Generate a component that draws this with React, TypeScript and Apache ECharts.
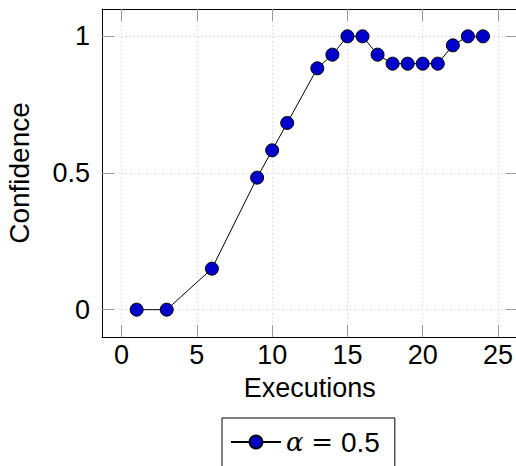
import React, { useEffect, useRef } from "react";
import * as echarts from "echarts";

const executions = [1, 3, 6, 9, 10, 11, 13, 14, 15, 16, 17, 18, 19, 20, 21, 22, 23, 24];
const confidence = [0, 0, 0.15, 0.483, 0.583, 0.683, 0.883, 0.933, 1, 1, 0.933, 0.9, 0.9, 0.9, 0.9, 0.967, 1, 1];
const xTicks = [0, 5, 10, 15, 20, 25];
const yTicks = [0, 0.5, 1];
const seriesName = "α = 0.5";

const FONT = "Liberation Sans";

export default function App() {
  const ref = useRef<HTMLDivElement>(null);
  useEffect(() => {
    if (!ref.current) return;
    const chart = echarts.init(ref.current, null, { renderer: "svg" });
    const tickStyle = { show: true, inside: true, length: 12, lineStyle: { color: "#9a9a9a", width: 1 } };
    const axisLine = { show: true, onZero: false, lineStyle: { color: "#000", width: 1 } };
    const grid = { show: true, lineStyle: { color: "#c8c8c8", width: 1, type: [1, 3] } };
    chart.setOption({
      animation: false,
      grid: { left: 102, top: 9, width: 415.6, height: 328, containLabel: false, outerBoundsMode: "none" },
      xAxis: [
        {
          type: "value",
          min: -1.3,
          max: 26.3,
          position: "bottom",
          axisLine,
          axisTick: { ...tickStyle, customValues: xTicks },
          axisLabel: { customValues: xTicks, color: "#000", fontFamily: FONT, fontSize: 27, margin: 4 },
          splitLine: grid,
          name: "Executions",
          nameLocation: "middle",
          nameGap: 37,
          nameTextStyle: { color: "#000", fontFamily: FONT, fontSize: 27 },
        },
        {
          type: "value",
          min: -1.3,
          max: 26.3,
          position: "top",
          axisLine,
          axisTick: { ...tickStyle, customValues: xTicks },
          axisLabel: { show: false },
          splitLine: { show: false },
        },
      ],
      yAxis: [
        {
          type: "value",
          min: -0.1,
          max: 1.1,
          position: "left",
          axisLine,
          axisTick: { ...tickStyle, customValues: yTicks },
          axisLabel: { customValues: yTicks, color: "#000", fontFamily: FONT, fontSize: 27, margin: 12 },
          splitLine: grid,
          name: "Confidence",
          nameLocation: "middle",
          nameGap: 69,
          nameTextStyle: { color: "#000", fontFamily: FONT, fontSize: 28 },
        },
        {
          type: "value",
          min: -0.1,
          max: 1.1,
          position: "right",
          axisLine,
          axisTick: { ...tickStyle, customValues: yTicks },
          axisLabel: { show: false },
          splitLine: { show: false },
        },
      ],
      legend: {
        show: true,
        left: 222,
        top: 418,
        orient: "horizontal",
        borderColor: "#000",
        borderWidth: 1,
        padding: [10, 15, 30, 8],
        itemWidth: 50,
        itemHeight: 16,
        data: [seriesName],
        formatter: () => "{a|α} {b|=} {c|0.5}",
        textStyle: {
          color: "#000",
          fontSize: 28,
          fontFamily: FONT,
          rich: {
            a: { fontFamily: "DejaVu Serif", fontStyle: "italic", fontSize: 26, color: "#000" },
            b: { fontFamily: "DejaVu Serif", fontSize: 26, color: "#000" },
            c: { fontFamily: FONT, fontSize: 28, color: "#000" },
          },
        },
      },
      series: [
        {
          name: seriesName,
          type: "line",
          xAxisIndex: 0,
          yAxisIndex: 0,
          data: executions.map((x, i) => [x, confidence[i]]),
          symbol: "circle",
          symbolSize: 13,
          lineStyle: { color: "#000", width: 1 },
          itemStyle: { color: "#0000cc", borderColor: "#000", borderWidth: 1 },
          clip: false,
        },
      ],
    });
    return () => chart.dispose();
  }, []);
  return <div ref={ref} style={{ position: "absolute", left: 0, top: 0, width: 516, height: 466 }} />;
}
